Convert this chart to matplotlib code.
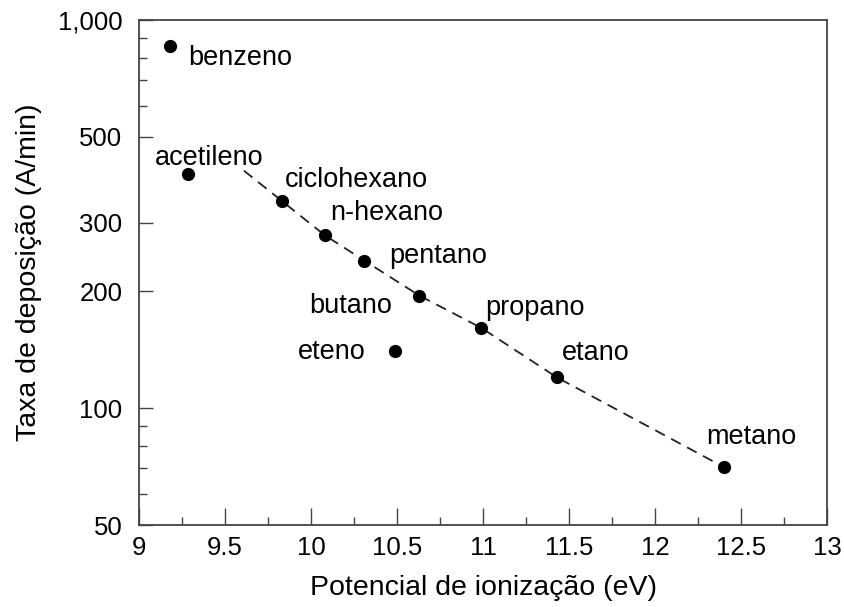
import numpy as np
import matplotlib
matplotlib.use("Agg")
import matplotlib.pyplot as plt
from matplotlib.ticker import FixedLocator, FixedFormatter, NullFormatter

plt.rcParams['font.family'] = ['Liberation Sans', 'DejaVu Sans']

# ionization potential (eV) and deposition rate (A/min)
compounds = ["benzeno", "acetileno", "ciclohexano", "n-hexano", "pentano",
             "butano", "propano", "eteno", "etano", "metano"]
ion_potential = [9.18, 9.285, 9.83, 10.08, 10.31, 10.63, 10.99, 10.49, 11.43, 12.40]
dep_rate = [857, 401, 342, 279, 240, 195, 161, 140, 120, 70.5]

# saturated series that the dashed guide follows
alkanes = ["ciclohexano", "n-hexano", "pentano", "butano", "propano", "etano", "metano"]

# label offsets in pixels (dx, dy) and horizontal alignment
label_pos = {
    "benzeno": (18, -19, "left"),
    "acetileno": (-33, 9, "left"),
    "ciclohexano": (3, 14, "left"),
    "n-hexano": (5, 15, "left"),
    "pentano": (25, -2, "left"),
    "butano": (-27, -17, "right"),
    "propano": (4, 13, "left"),
    "eteno": (-30, -8, "right"),
    "etano": (5, 17, "left"),
    "metano": (-18, 23, "left"),
}

fig = plt.figure(figsize=(8.44, 6.07), dpi=100)
ax = fig.add_axes([0.1647, 0.135, 0.8153, 0.832])

# dashed guide through the alkanes, with a short lead-in past ciclohexano
idx = [compounds.index(c) for c in alkanes]
gx = [ion_potential[i] for i in idx]
gy = [np.log10(dep_rate[i]) for i in idx]
lead = 0.22
slope0 = (gy[1] - gy[0]) / (gx[1] - gx[0])
gx = [gx[0] - lead] + gx
gy = [gy[0] - slope0 * lead] + gy
ax.plot(gx, 10 ** np.array(gy), ls=(0, (6, 4)), color="#222222", lw=1.3, zorder=1)

ax.plot(ion_potential, dep_rate, "o", color="black", ms=8.5, zorder=3)

for name, x, y in zip(compounds, ion_potential, dep_rate):
    dx, dy, ha = label_pos[name]
    ax.annotate(name, (x, y), xytext=(dx, dy), textcoords="offset pixels",
                ha=ha, va="baseline", fontsize=19.5, zorder=4)

ax.set_yscale("log")
ax.set_xlim(9, 13)
ax.set_ylim(50, 1000)

ax.xaxis.set_major_locator(FixedLocator(np.arange(9, 13.01, 0.5)))
ax.xaxis.set_minor_locator(FixedLocator(np.arange(9.25, 13, 0.5)))
ax.set_xticklabels(["9", "9.5", "10", "10.5", "11", "11.5", "12", "12.5", "13"])

ax.yaxis.set_major_locator(FixedLocator([50, 100, 200, 300, 500, 1000]))
ax.yaxis.set_major_formatter(FixedFormatter(["50", "100", "200", "300", "500", "1,000"]))
ax.yaxis.set_minor_locator(FixedLocator([60, 70, 80, 90, 600, 700, 800, 900]))
ax.yaxis.set_minor_formatter(NullFormatter())

ax.tick_params(which="both", direction="in", top=False, right=False,
               colors="#444444", labelcolor="black", labelsize=18.5, width=1)
ax.tick_params(axis="y", which="major", length=10, pad=12)
ax.tick_params(axis="y", which="minor", length=6)
ax.tick_params(axis="x", which="major", length=12, pad=8)
ax.tick_params(axis="x", which="minor", length=6)

for sp in ax.spines.values():
    sp.set_color("#444444")
    sp.set_linewidth(1.3)

ax.set_xlabel("Potencial de ionização (eV)", fontsize=20.5, labelpad=11)
ax.set_ylabel("Taxa de deposição (A/min)", fontsize=20.5, labelpad=11)

fig.savefig("out.png", dpi=100)
